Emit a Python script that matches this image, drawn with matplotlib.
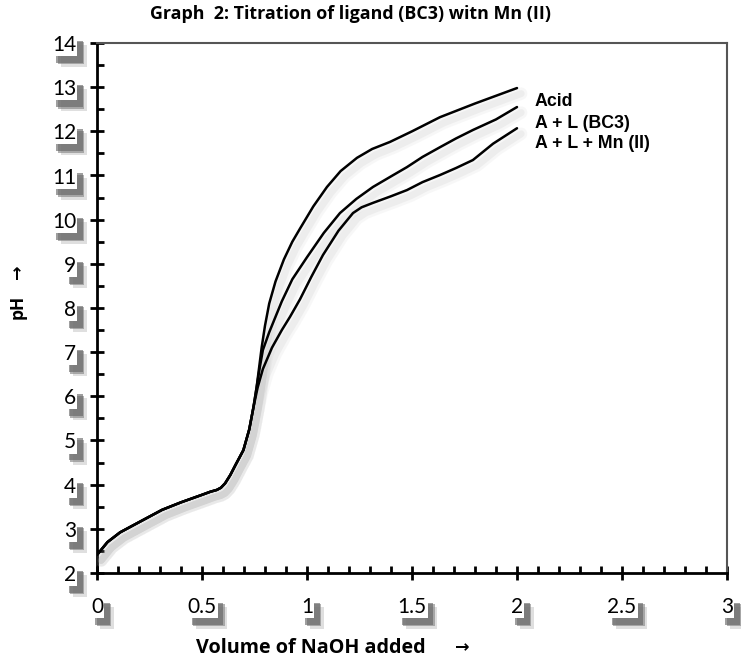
import matplotlib
matplotlib.use("Agg")
import matplotlib.pyplot as plt
import matplotlib.patheffects as pe
from matplotlib.ticker import MultipleLocator

# Titration data: volume of NaOH added (mL) vs pH
acid_x = [0.0, 0.05, 0.11, 0.2, 0.31, 0.4, 0.5, 0.54, 0.57, 0.59, 0.61, 0.635, 0.66, 0.697,
          0.725, 0.745, 0.76, 0.772, 0.784, 0.80, 0.82, 0.85, 0.89, 0.93, 0.967,
          1.03, 1.095, 1.16, 1.238, 1.31, 1.395, 1.5, 1.633, 1.8, 2.0]
acid_y = [2.41, 2.70, 2.92, 3.15, 3.43, 3.60, 3.77, 3.84, 3.88, 3.93, 4.03, 4.22, 4.45, 4.78,
          5.25, 5.75, 6.2, 6.65, 7.1, 7.6, 8.1, 8.6, 9.1, 9.5, 9.8,
          10.30, 10.74, 11.10, 11.40, 11.60, 11.76, 12.00, 12.32, 12.63, 12.98]

lig_x = [0.0, 0.05, 0.11, 0.2, 0.31, 0.4, 0.5, 0.54, 0.57, 0.59, 0.61, 0.635, 0.66, 0.697,
         0.725, 0.745, 0.76, 0.775, 0.79, 0.82, 0.85, 0.88, 0.93, 1.0, 1.08,
         1.157, 1.235, 1.314, 1.4, 1.476, 1.55, 1.633, 1.71, 1.79, 1.9, 2.0]
lig_y = [2.41, 2.70, 2.92, 3.15, 3.43, 3.60, 3.77, 3.84, 3.88, 3.93, 4.03, 4.22, 4.45, 4.78,
         5.25, 5.75, 6.2, 6.65, 7.05, 7.45, 7.8, 8.15, 8.65, 9.15, 9.70,
         10.15, 10.47, 10.74, 10.98, 11.19, 11.42, 11.64, 11.84, 12.03, 12.27, 12.55]

mn_x = [0.0, 0.05, 0.11, 0.2, 0.31, 0.4, 0.5, 0.54, 0.57, 0.59, 0.61, 0.635, 0.66, 0.697,
        0.725, 0.745, 0.765, 0.79, 0.833, 0.88, 0.919, 0.967, 1.02, 1.076, 1.15,
        1.219, 1.26, 1.314, 1.4, 1.476, 1.55, 1.633, 1.71, 1.79, 1.886, 2.0]
mn_y = [2.41, 2.70, 2.92, 3.15, 3.43, 3.60, 3.77, 3.84, 3.88, 3.93, 4.03, 4.22, 4.45, 4.78,
        5.25, 5.75, 6.2, 6.62, 7.1, 7.5, 7.8, 8.2, 8.7, 9.2, 9.75,
        10.15, 10.28, 10.38, 10.53, 10.67, 10.85, 11.01, 11.17, 11.35, 11.72, 12.07]

series_labels = ["Acid", "A + L (BC3)", "A + L + Mn (II)"]

title = "Graph  2: Titration of ligand (BC3) witn Mn (II)"
xlabel = "Volume of NaOH added"
ylabel = "pH"
arrow = "\u2192"

x_ticks = [0, 0.5, 1, 1.5, 2, 2.5, 3]
x_ticklabels = ["0", "0.5", "1", "1.5", "2", "2.5", "3"]
y_ticks = list(range(2, 15))

fig = plt.figure(figsize=(7.41, 6.68), dpi=100)
fig.patch.set_facecolor("white")
ax = fig.add_axes([97 / 741, 95 / 668, 630 / 741, 530 / 668])
ax.set_facecolor("white")

ax.set_xlim(0, 3)
ax.set_ylim(2, 14)

# Titration curves with a soft drop shadow
line_fx = [
    pe.SimpleLineShadow(offset=(3, -4), shadow_color="#999999", alpha=0.07, linewidth=9),
    pe.SimpleLineShadow(offset=(3, -4), shadow_color="#999999", alpha=0.10, linewidth=5),
    pe.Normal(),
]
for xs, ys in [(acid_x, acid_y), (lig_x, lig_y), (mn_x, mn_y)]:
    ax.plot(xs, ys, color="black", lw=1.8, solid_joinstyle="round",
            solid_capstyle="round", path_effects=line_fx, zorder=3)

# Curve labels at the right end of each line
label_font = dict(family=["Liberation Sans", "DejaVu Sans"], fontsize=12.8,
                  fontweight="bold", ha="left", va="center")
fig.text(535 / 741, 1 - 101 / 668, series_labels[0], **label_font)
fig.text(535 / 741, 1 - 123 / 668, series_labels[1], **label_font)
fig.text(535 / 741, 1 - 144 / 668, series_labels[2], **label_font)

# Axes frame
for side in ["left", "bottom"]:
    ax.spines[side].set_linewidth(2.0)
    ax.spines[side].set_color("black")
for side in ["top", "right"]:
    ax.spines[side].set_linewidth(1.5)
    ax.spines[side].set_color("#555555")

ax.set_xticks(x_ticks)
ax.set_xticklabels(x_ticklabels)
ax.set_yticks(y_ticks)
ax.xaxis.set_minor_locator(MultipleLocator(0.1))
ax.yaxis.set_minor_locator(MultipleLocator(0.5))
ax.tick_params(which="major", direction="inout", length=10, width=2.0, color="black",
               labelsize=15)
ax.tick_params(which="minor", direction="in", length=5, width=2.0, color="black")
ax.tick_params(axis="x", which="major", pad=12)
ax.tick_params(axis="y", which="major", pad=10)

# Tick labels sit on white boxes with a drop shadow
tick_fx = [
    pe.SimplePatchShadow(offset=(7, -8), shadow_rgbFace="#c0c0c0", alpha=0.5),
    pe.SimplePatchShadow(offset=(5, -6), shadow_rgbFace="#808080", alpha=0.6),
    pe.SimplePatchShadow(offset=(4, -5), shadow_rgbFace="#606060", alpha=0.6),
    pe.Normal(),
]
for lab in ax.get_xticklabels() + ax.get_yticklabels():
    lab.set_fontfamily(["Lato", "DejaVu Sans"])
    lab.set_bbox(dict(boxstyle="square,pad=0.05", fc="white", ec="none"))
    lab.get_bbox_patch().set_path_effects(tick_fx)

bold_font = dict(family=["Open Sans", "DejaVu Sans"], fontweight="bold")
fig.text(350 / 741, 1 - 14 / 668, title, ha="center", va="center",
         fontsize=12.9, **bold_font)
fig.text(196 / 741, 1 - 648 / 668, xlabel, ha="left", va="center",
         fontsize=14.2, **bold_font)
fig.text(455 / 741, 1 - 647 / 668, arrow, ha="left", va="center",
         family="DejaVu Sans", fontweight="bold", fontsize=12.5)
fig.text(18 / 741, 1 - 307 / 668, ylabel, ha="center", va="center", rotation=90,
         fontsize=12.5, **bold_font)
fig.text(17 / 741, 1 - 272 / 668, arrow, ha="center", va="center", rotation=90,
         family="DejaVu Sans", fontweight="bold", fontsize=12.5)

fig.savefig("out.png", dpi=100, facecolor="white")
